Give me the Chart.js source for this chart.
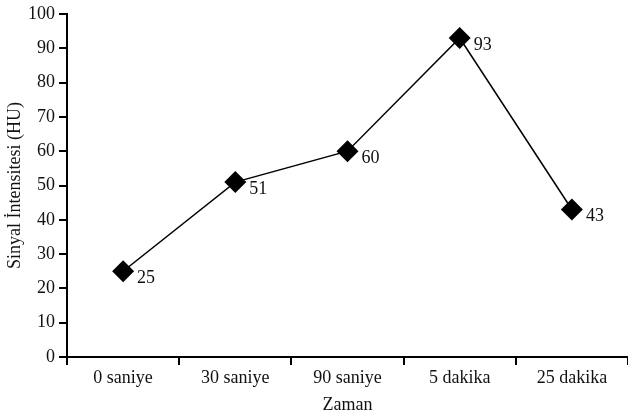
<!DOCTYPE html>
<html>
<head>
<meta charset="utf-8">
<script src="https://cdn.jsdelivr.net/npm/chart.js@4"></script>
<style>
html,body{margin:0;padding:0;background:#fff;}
#wrap{width:628px;height:417px;}
</style>
</head>
<body>
<div id="wrap"><canvas id="c" width="628" height="417"></canvas></div>
<script>
const categories = ['0 saniye', '30 saniye', '90 saniye', '5 dakika', '25 dakika'];
const values = [25, 51, 60, 93, 43];
const yTicks = [0, 10, 20, 30, 40, 50, 60, 70, 80, 90, 100];
const xTitle = 'Zaman';
const yTitle = 'Sinyal İntensitesi (HU)';

const FONT = "'Liberation Serif', 'DejaVu Serif', serif";

const labelPlugin = {
  id: 'pointLabels',
  afterDatasetsDraw(chart) {
    const ctx = chart.ctx;
    const meta = chart.getDatasetMeta(0);
    ctx.save();
    ctx.fillStyle = '#111';
    ctx.font = "18px " + FONT;
    ctx.textAlign = 'left';
    ctx.textBaseline = 'middle';
    meta.data.forEach((pt, i) => {
      ctx.fillText(String(values[i]), pt.x + 14, pt.y + 7);
    });
    ctx.restore();
  }
};

new Chart(document.getElementById('c'), {
  type: 'line',
  data: {
    labels: categories,
    datasets: [{
      data: values,
      borderColor: '#000',
      borderWidth: 1.5,
      backgroundColor: '#000',
      pointStyle: 'rectRot',
      pointRadius: 11,
      pointHoverRadius: 11,
      pointBorderWidth: 0,
      tension: 0,
      clip: false
    }]
  },
  options: {
    responsive: false,
    animation: false,
    events: [],
    layout: { autoPadding: false, padding: { top: 14, right: 0, left: 0, bottom: 0 } },
    plugins: { legend: { display: false }, tooltip: { enabled: false } },
    scales: {
      x: {
        type: 'category',
        offset: true,
        afterFit(scale) { scale.height = 60; scale.paddingRight = 0; scale.paddingLeft = 0; },
        grid: { offset: true, drawOnChartArea: false, drawTicks: true, tickLength: 8, color: '#000', lineWidth: 2 },
        border: { color: '#000', width: 2 },
        ticks: { color: '#111', font: { family: FONT, size: 18 }, padding: 2, maxRotation: 0 },
        title: { display: true, text: xTitle, color: '#111', font: { family: FONT, size: 18 }, padding: { top: 0, bottom: 1 } }
      },
      y: {
        min: 0, max: 100,
        afterFit(scale) { scale.width = 67; scale.paddingTop = 0; scale.paddingBottom = 0; },
        afterBuildTicks(scale) { scale.ticks = yTicks.map(v => ({ value: v })); },
        grid: { drawOnChartArea: false, drawTicks: true, tickLength: 8, color: '#000', lineWidth: 2 },
        border: { color: '#000', width: 2 },
        ticks: { color: '#111', font: { family: FONT, size: 18 }, padding: 4 },
        title: { display: true, text: yTitle, color: '#111', font: { family: FONT, size: 18 }, padding: { top: 4, bottom: 0 } }
      }
    }
  },
  plugins: [labelPlugin]
});
</script>
</body>
</html>
